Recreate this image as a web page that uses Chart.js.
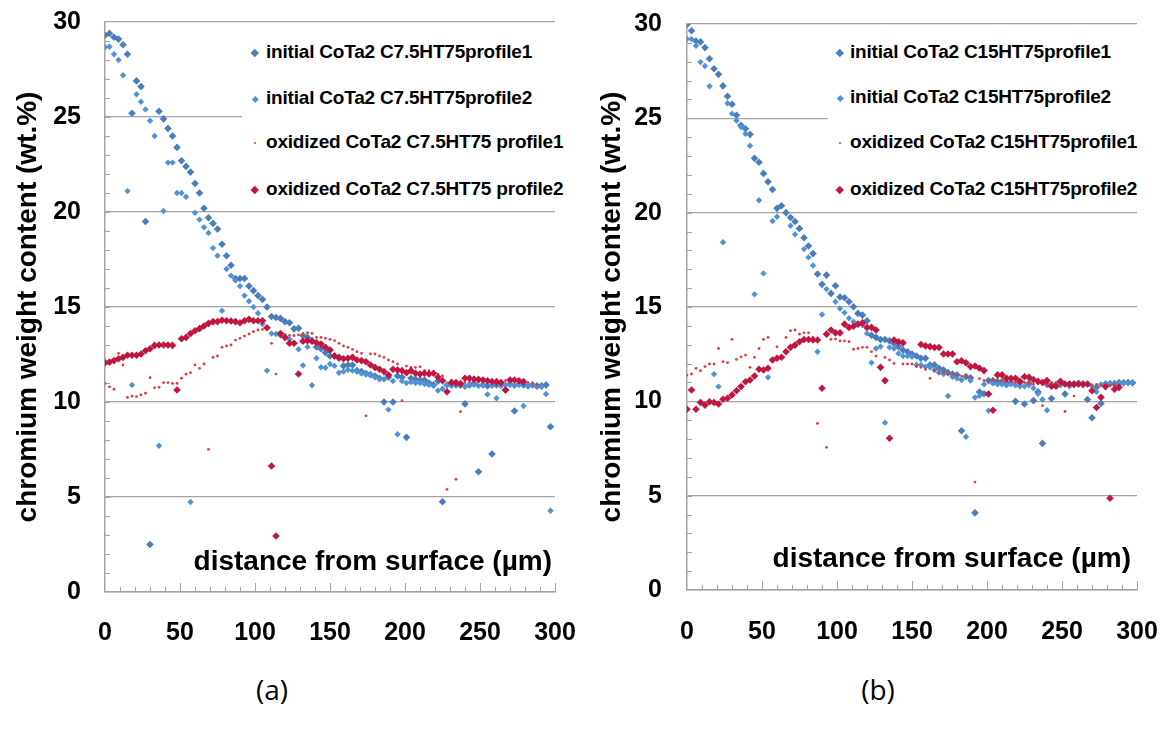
<!DOCTYPE html>
<html>
<head>
<meta charset="utf-8">
<script src="https://cdn.jsdelivr.net/npm/chart.js@4.4.1/dist/chart.umd.min.js"></script>
<style>
  body { margin: 0; background: #fff; }
  #page { position: relative; width: 1168px; height: 736px; overflow: hidden; background: #fff; }
  canvas { position: absolute; top: 0; }
  .legend { position: absolute; background: #fff; z-index: 2; }
  .item { position: absolute; left: 0; height: 24px; line-height: 24px; white-space: nowrap;
          font: bold 19px "Liberation Sans", Arial, sans-serif; color: #000; letter-spacing: -0.2px; }
  .mark { position: absolute; top: 50%; }
  .caption { position: absolute; top: 670px; width: 80px; text-align: center;
             font: 28px "Open Sans", sans-serif; color: #000; }
</style>
</head>
<body>
<div id="page">
  <canvas id="chartA" width="584" height="660" style="left:0;width:584px;height:660px"></canvas>
  <canvas id="chartB" width="584" height="660" style="left:584px;width:584px;height:660px"></canvas>
  <div class="caption" style="left:232px">(a)</div>
  <div class="caption" style="left:838px">(b)</div>
</div>
<script>
// distance from surface (µm), one profile point every 3 µm
const dist = [0,3,6,9,12,15,18,21,24,27,30,33,36,39,42,45,48,51,54,57,
  60,63,66,69,72,75,78,81,84,87,90,93,96,99,102,105,108,111,114,117,
  120,123,126,129,132,135,138,141,144,147,150,153,156,159,162,165,168,171,174,177,
  180,183,186,189,192,195,198,201,204,207,210,213,216,219,222,225,228,231,234,237,
  240,243,246,249,252,255,258,261,264,267,270,273,276,279,282,285,288,291,294,297];

const xTicks = [0, 50, 100, 150, 200, 250, 300];
const yTicks = [0, 5, 10, 15, 20, 25, 30];

const legendA = ["initial CoTa2 C7.5HT75profile1", "initial CoTa2 C7.5HT75profile2",
  "oxidized CoTa2 C7.5HT75 profile1", "oxidized CoTa2 C7.5HT75 profile2"];
const legendB = ["initial CoTa2 C15HT75profile1", "initial CoTa2 C15HT75profile2",
  "oxidized CoTa2 C15HT75profile1", "oxidized CoTa2 C15HT75profile2"];

// (a) C7.5HT75, chromium content (wt.%)
const aInit1 = [29.3,29.4,29.2,29.1,28.8,28.3,25.2,26.9,26.6,19.5,
  2.5,null,25.3,24.9,24.4,24.0,23.4,22.7,22.4,22.1,
  21.5,21.0,20.2,19.7,19.4,19.1,18.3,17.7,17.2,16.5,
  16.5,16.5,16.1,15.86,15.6,15.4,15.0,14.5,14.45,14.4,
  14.23,14.17,13.85,13.88,13.5,13.4,13.23,12.9,12.8,12.6,
  12.42,12.42,12.3,11.9,11.95,11.95,11.65,11.6,11.5,11.45,
  11.37,11.25,10.0,11.3,10.0,11.37,11.3,8.14,11.25,11.2,
  11.16,11.16,11.0,10.9,11.1,4.75,10.9,10.95,10.9,10.98,
  9.9,10.9,10.98,6.33,10.9,10.85,7.26,10.9,10.9,10.63,
  10.95,9.53,10.95,10.9,10.85,10.9,10.85,10.85,10.9,8.7];
const aInit2 = [28.67,28.7,28.3,28.0,27.2,21.1,10.9,26.2,25.8,25.4,
  24.8,24.0,7.7,20.05,22.6,22.6,21.0,21.0,20.8,4.74,
  19.96,19.6,19.2,18.9,18.1,17.7,14.8,17.0,16.65,16.4,
  16.1,15.6,15.3,15.0,14.67,14.1,11.65,13.6,13.58,13.5,
  13.4,13.3,13.1,12.77,11.93,12.9,10.88,12.3,11.83,11.8,
  12.0,11.9,11.54,11.6,11.7,11.65,11.6,11.5,11.45,11.4,
  11.3,11.2,11.2,9.6,11.1,8.3,11.1,11.0,11.05,11.0,
  11.0,10.95,10.9,10.85,10.6,10.7,10.9,10.85,10.9,10.85,
  10.8,10.9,10.9,10.85,10.9,10.4,10.85,10.2,10.85,10.9,
  10.9,10.85,10.9,9.79,10.85,10.9,10.8,10.8,10.42,4.28];
const aOx1 = [10.98,10.8,10.67,12.56,11.95,10.24,10.31,10.28,10.37,10.46,
  11.28,10.75,10.77,11.02,11.02,10.98,10.98,11.25,11.46,11.54,
  11.95,11.77,12.0,7.51,12.35,12.42,12.88,12.95,13.0,13.26,
  13.35,13.47,13.58,13.7,13.79,13.82,13.85,13.09,11.47,13.6,
  13.55,13.5,13.5,13.53,13.58,13.65,13.61,13.4,13.4,13.35,
  13.3,13.23,13.09,12.95,12.88,12.77,12.65,12.56,9.27,12.53,
  12.53,12.42,12.35,12.21,12.12,12.0,10.07,11.89,11.82,11.82,
  11.85,11.65,11.65,11.54,11.47,11.37,5.4,11.12,5.93,9.49,
  11.02,11.12,11.07,11.07,11.07,11.07,11.02,11.02,11.07,11.12,
  11.12,11.19,11.16,11.07,11.02,10.98,10.89,null,null,null];
const aOx2 = [12.07,12.1,12.18,12.28,12.35,12.46,12.46,12.46,12.53,12.7,
  12.8,12.98,13.0,13.0,13.0,12.98,10.63,13.33,13.4,13.6,
  13.75,13.86,14.0,14.14,14.23,14.23,14.3,14.28,14.26,14.23,
  14.17,14.28,14.35,14.28,14.28,14.28,13.91,6.63,2.95,13.6,
  13.4,13.09,13.09,11.47,13.2,13.23,13.2,13.12,13.05,12.88,
  12.74,12.42,12.35,12.28,12.3,12.35,12.21,12.18,12.12,11.95,
  11.82,11.72,11.6,11.42,11.72,11.68,11.65,11.54,11.65,11.51,
  11.47,11.51,11.47,11.51,11.3,11.12,10.54,11.02,11.02,10.95,
  11.25,11.25,11.21,11.19,11.16,11.12,11.07,11.07,11.02,10.63,
  11.16,11.16,11.12,11.07,null,null,null,null,null,null];

// (b) C15HT75, chromium content (wt.%)
const bInit1 = [29.98,29.64,29.1,29.05,28.75,28.16,27.63,27.33,26.72,26.17,
  25.75,25.16,24.63,24.45,24.15,22.88,22.67,22.08,21.64,21.23,
  20.23,20.37,20.0,19.74,19.53,19.16,18.67,18.23,17.83,16.75,
  16.2,16.69,15.72,16.13,15.53,15.49,15.28,15.01,14.66,14.57,
  14.27,13.5,13.39,13.28,13.28,13.21,13.07,12.9,12.72,12.63,
  12.51,12.4,12.28,12.28,11.93,11.93,11.75,11.66,11.52,11.45,
  11.4,8.44,11.3,11.25,4.09,10.5,10.4,11.1,11.1,11.05,
  11.05,11.0,11.0,10.0,11.0,9.86,10.95,10.04,10.5,7.77,
  10.9,10.15,10.9,10.95,10.39,10.9,10.9,10.95,10.9,10.1,
  9.13,10.75,9.89,10.92,10.92,10.92,11.0,10.98,11.0,10.98];
const bInit2 = [29.2,29.2,28.85,27.98,27.77,26.7,11.44,10.78,18.43,25.8,
  25.25,24.88,24.54,24.18,23.55,15.67,20.66,16.78,11.27,19.56,
  19.78,null,null,19.31,18.85,null,18.07,17.63,17.2,12.63,
  14.6,15.95,null,15.28,14.92,14.7,14.4,14.22,14.13,14.04,
  13.6,12.05,12.8,12.9,8.87,12.86,12.8,12.54,12.4,12.4,
  12.36,11.93,11.93,11.84,11.8,11.66,11.52,11.45,10.28,11.3,
  11.22,11.13,8.12,11.1,10.2,10.3,10.9,9.5,10.95,10.9,
  10.9,10.85,10.9,10.85,10.8,10.8,10.85,10.7,10.4,10.1,
  9.53,10.85,10.9,10.85,10.9,10.8,10.85,10.9,10.85,10.9,
  10.8,10.5,10.9,10.95,10.98,10.98,10.95,11.0,10.98,11.0];
const bOx1 = [11.39,11.45,11.75,11.62,11.84,11.98,11.98,12.8,12.1,12.05,
  13.28,12.22,12.36,12.45,11.8,12.33,12.8,13.28,13.39,null,
  12.89,null,13.39,13.74,13.78,13.56,13.63,13.63,13.39,8.83,
  null,7.56,13.28,13.3,13.2,13.2,13.16,12.76,12.8,12.86,
  12.86,12.63,12.4,11.8,12.33,12.19,12.01,null,11.98,11.98,
  11.98,11.84,11.8,11.7,11.22,11.62,11.52,11.52,11.45,11.45,
  11.39,11.34,11.39,11.3,5.72,11.2,11.1,11.1,11.15,11.1,
  11.1,11.05,11.05,11.0,10.95,11.0,10.95,10.9,10.95,9.77,
  10.9,11.0,10.95,10.9,9.46,10.9,10.28,10.9,10.85,10.9,
  10.85,10.9,10.85,10.8,10.85,10.9,10.85,null,null,null];
const bOx2 = [9.58,10.6,9.58,9.94,9.8,9.98,9.94,9.86,10.11,10.16,
  10.34,10.56,10.78,11.04,11.13,11.34,11.7,11.66,11.75,12.19,
  12.28,12.34,12.63,12.86,12.98,13.16,13.28,13.28,13.25,13.25,
  10.69,13.56,13.78,13.63,13.63,14.09,13.92,13.98,14.09,14.16,
  13.92,13.92,13.78,11.8,11.1,8.04,13.25,13.16,13.1,null,
  null,null,13.01,12.94,12.9,12.85,12.85,12.51,12.51,12.51,
  12.1,12.15,12.04,11.84,11.87,11.75,11.63,10.39,9.53,11.4,
  11.4,11.22,11.22,11.22,11.06,11.3,11.27,11.15,11.06,11.0,
  11.1,10.8,10.8,11.06,10.92,10.92,10.92,10.92,10.92,10.92,
  10.56,9.67,10.21,10.78,4.86,10.64,10.74,null,null,null];

const FONT = '"Liberation Sans", Arial, sans-serif';
const GRID = '#a3a3a3';

// marker look per series: initial 1, initial 2, oxidized 1, oxidized 2
const looks = [
  { color: '#4A7EBB', style: 'rectRot', r: 3.8 },
  { color: '#4F93D6', style: 'rectRot', r: 3.2 },
  { color: '#E23B3B', style: 'circle', r: 1.4 },
  { color: '#C0163F', style: 'rectRot', r: 3.8 },
];

const toPoints = (ys) => dist.map((x, i) => ({ x, y: ys[i] })).filter((p) => p.y !== null);

// minor ticks and the in-plot x title, like the spreadsheet original
const decor = {
  id: 'decor',
  beforeDatasetsDraw(chart, args, opts) {
    const { ctx, chartArea: a, scales: { x, y } } = chart;
    ctx.save();
    ctx.strokeStyle = GRID;
    ctx.lineWidth = 1;
    ctx.beginPath();
    for (let v = y.min + 1; v < y.max; v++) {
      const py = Math.round(y.getPixelForValue(v)) + 0.5;
      ctx.moveTo(a.left, py);
      ctx.lineTo(a.left + 5, py);
    }
    for (let v = x.min + 10; v <= x.max; v += 10) {
      const px = Math.round(x.getPixelForValue(v)) + 0.5;
      const len = v % 50 === 0 ? 9 : 5;
      ctx.moveTo(px, a.bottom);
      ctx.lineTo(px, a.bottom - len);
    }
    ctx.stroke();
    ctx.fillStyle = '#000';
    ctx.font = 'bold 28px ' + FONT;
    ctx.textAlign = 'right';
    ctx.textBaseline = 'alphabetic';
    ctx.fillText(opts.text, a.right - opts.inset, a.bottom - opts.lift);
    ctx.restore();
  },
};

const makeChart = (id, series, labels, box) => {
  const canvas = document.getElementById(id);
  return new Chart(canvas, {
    type: 'scatter',
    data: {
      datasets: series.map((ys, k) => ({
        label: labels[k],
        data: toPoints(ys),
        pointStyle: looks[k].style,
        pointRadius: looks[k].r,
        pointHoverRadius: looks[k].r,
        backgroundColor: looks[k].color,
        borderColor: looks[k].color,
        borderWidth: 0,
        order: 3 - k, // later series on top, as in the original
      })),
    },
    options: {
      responsive: false,
      animation: false,
      events: [],
      layout: { padding: { left: 0, top: box.top, right: canvas.width - box.right, bottom: 0 } },
      plugins: {
        legend: { display: false },
        tooltip: { enabled: false },
        decor: { text: 'distance from surface (µm)', inset: box.titleInset, lift: box.titleLift },
      },
      scales: {
        x: {
          type: 'linear',
          min: 0,
          max: 300,
          afterBuildTicks: (s) => { s.ticks = xTicks.map((v) => ({ value: v })); },
          afterFit: (s) => {
            s.height = canvas.height - box.bottom;
            s.paddingLeft = 0;
            s.paddingRight = 0;
          },
          ticks: { color: '#000', font: { family: FONT, size: 25, weight: 'bold' }, padding: box.xPad, maxRotation: 0 },
          grid: { display: false, drawTicks: false },
          border: { display: true, color: GRID, width: 1.5 },
        },
        y: {
          min: 0,
          max: 30,
          afterBuildTicks: (s) => { s.ticks = yTicks.map((v) => ({ value: v })); },
          afterFit: (s) => {
            s.width = box.left;
            s.paddingTop = 0;
            s.paddingBottom = 0;
          },
          ticks: { color: '#000', font: { family: FONT, size: 25, weight: 'bold' }, padding: box.yPad },
          grid: { color: GRID, lineWidth: 1.3, drawTicks: false },
          border: { display: true, color: GRID, width: 1.5 },
          title: {
            display: true,
            text: 'chromium weight content (wt.%)',
            color: '#000',
            font: { family: FONT, size: 28, weight: 'bold' },
            padding: { top: 11, bottom: 0 },
          },
        },
      },
    },
    plugins: [decor],
  });
};

// legend boxes sit inside the plot, on a white ground that hides the 25 line
const makeLegend = (labels, box) => {
  const page = document.getElementById('page');
  const lg = document.createElement('div');
  lg.className = 'legend';
  lg.style.left = box.left + 'px';
  lg.style.top = box.top + 'px';
  lg.style.width = box.width + 'px';
  lg.style.height = box.height + 'px';
  labels.forEach((text, k) => {
    const item = document.createElement('div');
    item.className = 'item';
    item.style.top = (box.rows[k] - box.top - 12) + 'px';
    item.style.width = box.width + 'px';
    const mark = document.createElement('span');
    mark.className = 'mark';
    const size = looks[k].style === 'circle' ? looks[k].r * 2 : looks[k].r * 1.45;
    mark.style.width = size + 'px';
    mark.style.height = size + 'px';
    mark.style.left = (box.markX - box.left - size / 2) + 'px';
    mark.style.marginTop = (-size / 2) + 'px';
    mark.style.background = looks[k].color;
    mark.style.transform = looks[k].style === 'circle' ? 'none' : 'rotate(45deg)';
    if (looks[k].style === 'circle') mark.style.borderRadius = '50%';
    const label = document.createElement('span');
    label.textContent = text;
    label.style.position = 'absolute';
    label.style.left = (box.textX - box.left) + 'px';
    item.appendChild(mark);
    item.appendChild(label);
    lg.appendChild(item);
  });
  page.appendChild(lg);
};

makeChart('chartA', [aInit1, aInit2, aOx1, aOx2], legendA,
  { left: 105, top: 22, right: 555, bottom: 592, xPad: 26, yPad: 24, titleInset: 3, titleLift: 22 });
makeChart('chartB', [bInit1, bInit2, bOx1, bOx2], legendB,
  { left: 103, top: 24, right: 553, bottom: 590, xPad: 27, yPad: 25, titleInset: 6, titleLift: 23 });

makeLegend(legendA, { left: 242, top: 30, width: 335, height: 176, markX: 255, textX: 266, rows: [53, 99, 143, 190] });
makeLegend(legendB, { left: 828, top: 30, width: 335, height: 176, markX: 840, textX: 850, rows: [53, 98, 143, 190] });
</script>
</body>
</html>
